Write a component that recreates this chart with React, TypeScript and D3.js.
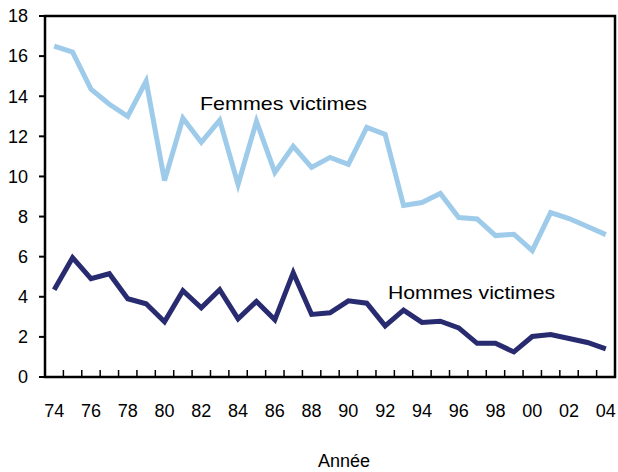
import React from "react";
import * as d3 from "d3";

// années 1974 à 2004
const years = d3.range(1974, 2005);
const yearLabels = ["74", "76", "78", "80", "82", "84", "86", "88", "90", "92", "94", "96", "98", "00", "02", "04"];

const femmes = [16.5, 16.2, 14.35, 13.6, 13.0, 14.75, 9.8, 12.9, 11.7, 12.8, 9.6, 12.75, 10.2, 11.5, 10.45,
  10.95, 10.6, 12.45, 12.1, 8.55, 8.7, 9.15, 7.95, 7.88, 7.05, 7.12, 6.3, 8.2, 7.9, 7.5, 7.1];
const hommes = [4.35, 5.95, 4.9, 5.15, 3.9, 3.65, 2.75, 4.3, 3.45, 4.35, 2.9, 3.77, 2.85, 5.2, 3.12,
  3.2, 3.8, 3.68, 2.55, 3.33, 2.72, 2.78, 2.45, 1.68, 1.68, 1.25, 2.02, 2.12, 1.92, 1.72, 1.4];
const yTicks = [0, 2, 4, 6, 8, 10, 12, 14, 16, 18];

const W = 618, H = 472;
const left = 45, right = 615, top = 16, bottom = 377;
const font = "'Liberation Sans', Arial, Helvetica, sans-serif";

export default function App() {
  const x = d3.scaleBand<number>().domain(years).range([left, right]).padding(0);
  const y = d3.scaleLinear().domain([0, 18]).range([bottom, top]);
  const cx = (yr: number) => (x(yr) as number) + x.bandwidth() / 2;

  const line = d3.line<number>()
    .x((_, i) => cx(years[i]))
    .y(d => y(d));

  const boundaries = years.slice(1).map(yr => x(yr) as number);

  return (
    <svg width={W} height={H} style={{ position: "absolute", left: 0, top: 0, background: "#fff" }}>
      <path d={line(femmes) || ""} fill="none" stroke="#9fcbeb" strokeWidth={5} strokeLinejoin="miter" />
      <path d={line(hommes) || ""} fill="none" stroke="#282b6f" strokeWidth={5} strokeLinejoin="miter" />

      <rect x={left} y={top} width={right - left} height={bottom - top} fill="none" stroke="#000" strokeWidth={2.5} />

      {yTicks.map(t => (
        <g key={t}>
          <line x1={left - 6} x2={left} y1={y(t)} y2={y(t)} stroke="#000" strokeWidth={2} />
          <text x={28} y={y(t)} dy="0.35em" textAnchor="end" fontFamily={font} fontSize={18} fill="#000">{t}</text>
        </g>
      ))}

      {boundaries.map((bx, i) => (
        <line key={i} x1={bx} x2={bx} y1={bottom} y2={bottom - 7} stroke="#000" strokeWidth={1.5} />
      ))}

      {yearLabels.map((lab, i) => (
        <text key={lab} x={cx(years[i * 2])} y={417} textAnchor="middle" fontFamily={font} fontSize={18} fill="#000">{lab}</text>
      ))}

      <text x={344} y={467} textAnchor="middle" fontFamily={font} fontSize={18} fill="#000">Année</text>
      <text x={200} y={110} fontFamily={font} fontSize={18.5} fill="#000" textLength={167} lengthAdjust="spacingAndGlyphs">Femmes victimes</text>
      <text x={388} y={299} fontFamily={font} fontSize={18.5} fill="#000" textLength={167} lengthAdjust="spacingAndGlyphs">Hommes victimes</text>
    </svg>
  );
}
